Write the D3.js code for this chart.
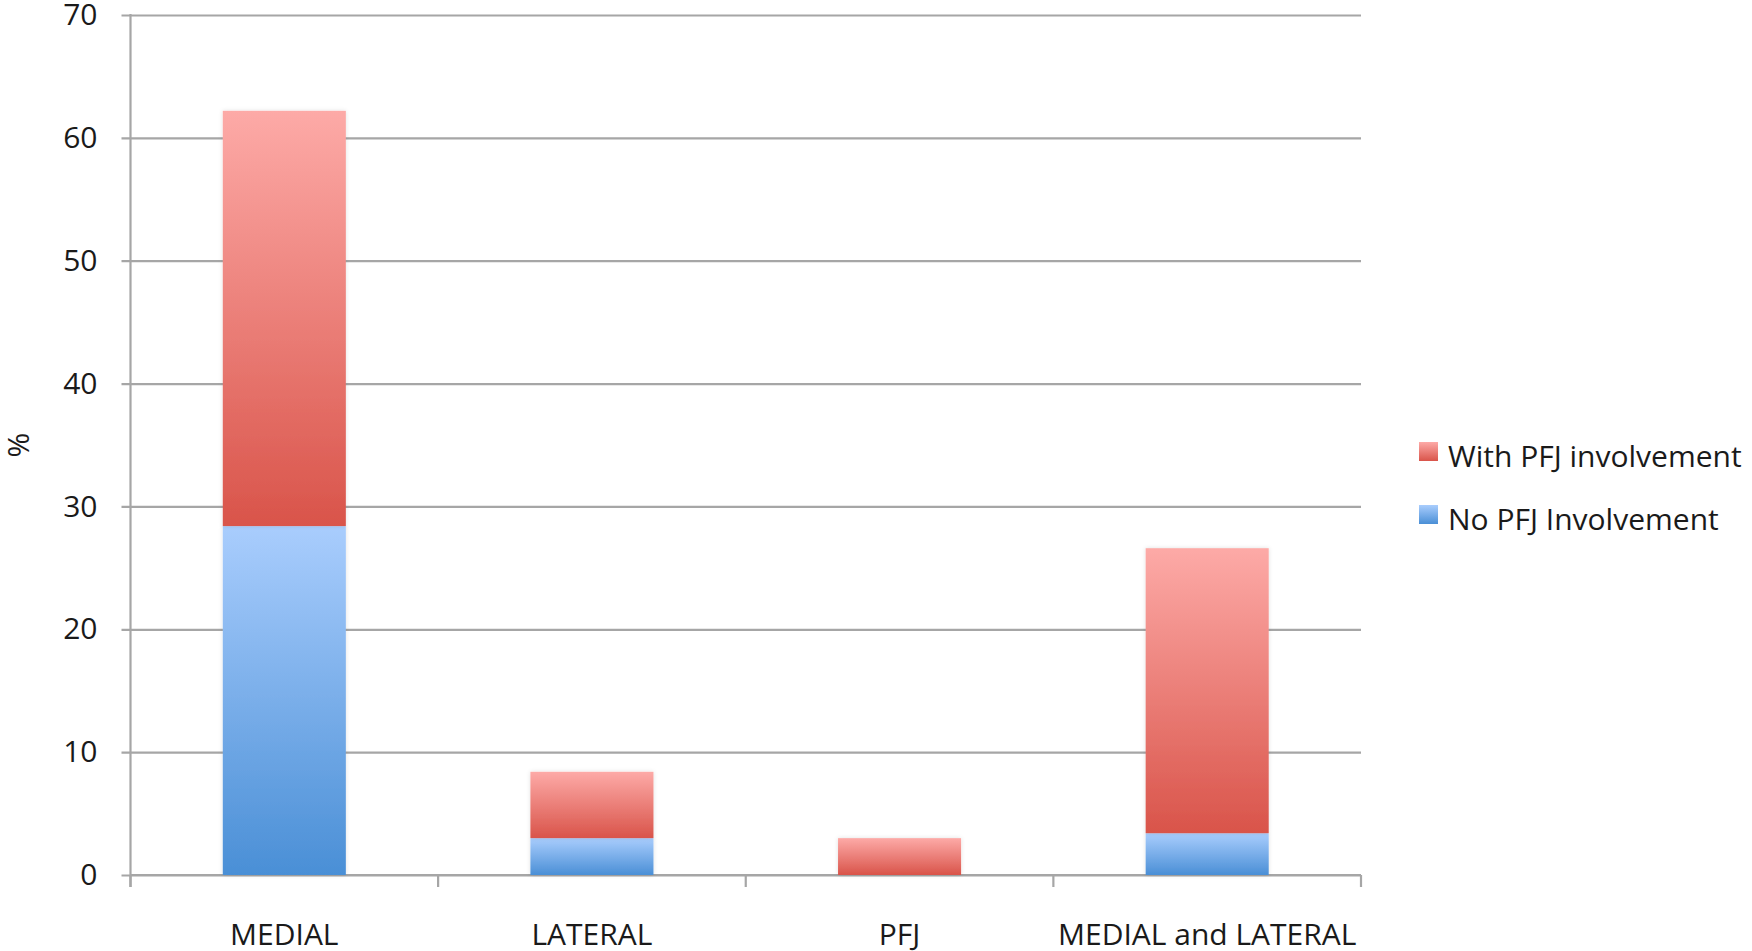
<!DOCTYPE html>
<html>
<head>
<meta charset="utf-8">
<script src="https://cdn.jsdelivr.net/npm/d3@7"></script>
<style>
  body { margin: 0; background: #fff; }
  text { font-family: "Open Sans", sans-serif; fill: #1a1a1a; }
</style>
</head>
<body>
<div id="chart"></div>
<script>
const categories = ['MEDIAL', 'LATERAL', 'PFJ', 'MEDIAL and LATERAL']
const noPfj = [28.4, 3.0, 0, 3.4]
const withPfj = [33.8, 5.4, 3.0, 23.2]
const yTicks = [0, 10, 20, 30, 40, 50, 60, 70]
const seriesNames = ['No PFJ Involvement', 'With PFJ involvement']

const W = 1752, H = 951
const plot = { left: 130.5, right: 1361, top: 15, bottom: 875 }
const fontSize = 30

const svg = d3.select('#chart').append('svg')
    .attr('width', W)
    .attr('height', H)

const defs = svg.append('defs')
const grads = [
    { id: 'gBlue', top: '#a9cdfd', bot: '#4a8fd6' },
    { id: 'gRed', top: '#fdaaa7', bot: '#d9544a' }
]
grads.forEach(g => {
    let lg = defs.append('linearGradient')
        .attr('id', g.id)
        .attr('x1', 0).attr('y1', 0).attr('x2', 0).attr('y2', 1)
    lg.append('stop').attr('offset', '0%').attr('stop-color', g.top)
    lg.append('stop').attr('offset', '100%').attr('stop-color', g.bot)
})
const shadow = defs.append('filter').attr('id', 'shadow')
    .attr('x', '-10%').attr('y', '-10%').attr('width', '120%').attr('height', '120%')
shadow.append('feDropShadow')
    .attr('dx', 0).attr('dy', 0).attr('stdDeviation', 2)
    .attr('flood-color', '#000').attr('flood-opacity', 0.12)

// scales
let x = d3.scaleBand()
    .domain(categories)
    .range([plot.left, plot.right])
    .paddingInner(0.6)
    .paddingOuter(0.3)

let y = d3.scaleLinear()
    .domain([0, 70])
    .range([plot.bottom, plot.top])

// gridlines (start a little left of the axis, like the tick marks)
let grid = d3.axisRight(y).tickValues(yTicks).tickSize(plot.right - plot.left + 9).tickFormat('')
svg.append('g')
    .attr('transform', `translate(${plot.left - 9}, 0)`)
    .call(grid)
    .call(g => g.select('.domain').remove())
    .call(g => g.selectAll('line').attr('stroke', '#a6a6a6').attr('stroke-width', 2.2))

// y axis
svg.append('g')
    .attr('transform', `translate(${plot.left}, 0)`)
    .call(d3.axisLeft(y).tickValues(yTicks).tickSize(0).tickPadding(33))
    .call(g => g.select('.domain').attr('stroke', '#a6a6a6').attr('stroke-width', 2.2)
        .attr('d', `M0,${plot.top - 1}V${plot.bottom + 12}`))
    .call(g => g.selectAll('text').attr('font-size', fontSize).attr('fill', '#1a1a1a')
        .attr('font-family', '"Open Sans", sans-serif'))

// x axis, ticks sit on the category boundaries
let boundaries = d3.range(categories.length + 1)
    .map(i => plot.left + i * (plot.right - plot.left) / categories.length)
let xAxis = svg.append('g').attr('transform', `translate(0, ${plot.bottom})`)
xAxis.append('path')
    .attr('d', `M${plot.left},0H${plot.right}`)
    .attr('stroke', '#a6a6a6').attr('stroke-width', 2.2)
xAxis.selectAll('line.b')
    .data(boundaries)
    .enter()
    .append('line')
    .attr('x1', d => d).attr('x2', d => d)
    .attr('y1', 0).attr('y2', 12)
    .attr('stroke', '#a6a6a6').attr('stroke-width', 2.2)
xAxis.selectAll('text')
    .data(categories)
    .enter()
    .append('text')
    .attr('x', d => x(d) + x.bandwidth() / 2)
    .attr('y', 70)
    .attr('text-anchor', 'middle')
    .attr('font-size', fontSize)
    .text(d => d)

// stacked bars
let stackData = categories.map((c, i) => ({ cat: c, no: noPfj[i], yes: withPfj[i] }))
let stacked = d3.stack().keys(['no', 'yes'])(stackData)
let fills = { no: 'url(#gBlue)', yes: 'url(#gRed)' }

svg.append('g').selectAll('g')
    .data(stacked)
    .enter()
    .append('g')
    .attr('fill', s => fills[s.key])
    .selectAll('rect')
    .data(s => s.filter(p => p[1] - p[0] > 0))
    .enter()
    .append('rect')
    .attr('x', p => x(p.data.cat))
    .attr('width', x.bandwidth())
    .attr('y', p => y(p[1]))
    .attr('height', p => y(p[0]) - y(p[1]))
    .attr('filter', 'url(#shadow)')

// y label
svg.append('text')
    .attr('transform', 'translate(29, 445) rotate(-90)')
    .attr('text-anchor', 'middle')
    .attr('font-size', fontSize)
    .text('%')

// legend (red first, like the original)
let legendItems = [
    { name: seriesNames[1], fill: 'url(#gRed)' },
    { name: seriesNames[0], fill: 'url(#gBlue)' }
]
let legend = svg.append('g').attr('transform', 'translate(1419, 442)')
let li = legend.selectAll('g')
    .data(legendItems)
    .enter()
    .append('g')
    .attr('transform', (d, i) => `translate(0, ${i * 63})`)
li.append('rect')
    .attr('width', 19).attr('height', 19)
    .attr('fill', d => d.fill)
li.append('text')
    .attr('x', 29)
    .attr('y', 25)
    .attr('font-size', fontSize)
    .text(d => d.name)
</script>
</body>
</html>
